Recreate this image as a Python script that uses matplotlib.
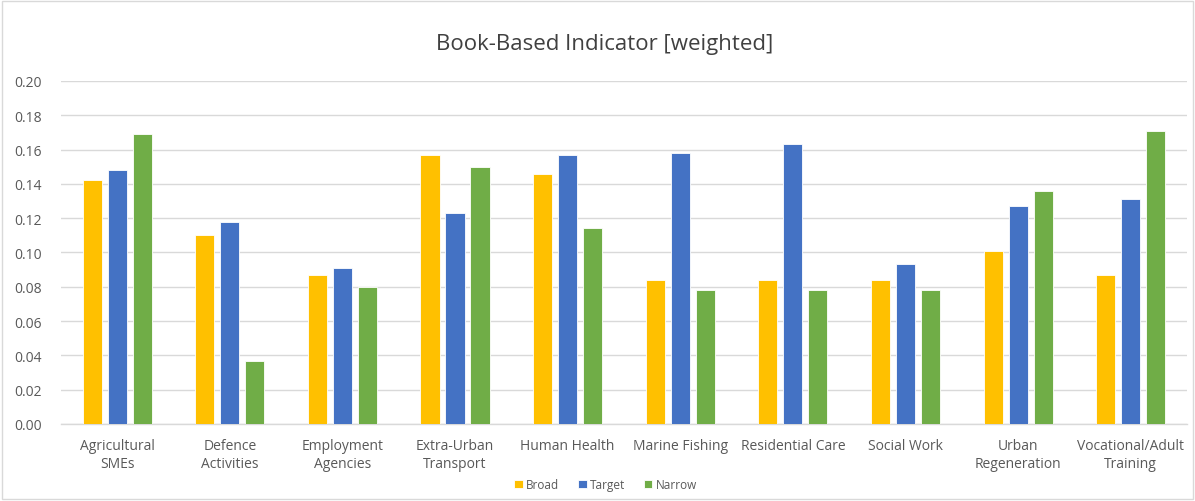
import matplotlib.pyplot as plt
import numpy as np
from matplotlib.patches import Rectangle

plt.rcParams['font.family'] = ['Open Sans', 'DejaVu Sans']

categories = ['Agricultural\nSMEs', 'Defence\nActivities', 'Employment\nAgencies',
              'Extra-Urban\nTransport', 'Human Health', 'Marine Fishing',
              'Residential Care', 'Social Work', 'Urban\nRegeneration',
              'Vocational/Adult\nTraining']
broad = [0.142, 0.110, 0.087, 0.157, 0.146, 0.084, 0.084, 0.084, 0.101, 0.087]
target = [0.148, 0.118, 0.091, 0.123, 0.157, 0.158, 0.163, 0.093, 0.127, 0.131]
narrow = [0.169, 0.037, 0.080, 0.150, 0.114, 0.078, 0.078, 0.078, 0.136, 0.171]
series_names = ['Broad', 'Target', 'Narrow']
colors = ['#FFC000', '#4472C4', '#70AD47']

fig = plt.figure(figsize=(11.95, 5.02), dpi=100)
ax = fig.add_axes([0.051, 0.1534, 0.9423, 0.6833])

x = np.arange(len(categories))
step = 0.222
width = 0.17
for i, (vals, name, col) in enumerate(zip([broad, target, narrow], series_names, colors)):
    ax.bar(x + (i - 1) * step, vals, width, color=col, label=name,
           edgecolor='white', linewidth=0.6, zorder=3)

ax.set_xlim(-0.5, len(categories) - 0.5)
ax.set_ylim(0, 0.20)
ax.set_yticks(np.arange(0, 0.201, 0.02))
ax.set_yticklabels(['%.2f' % v for v in np.arange(0, 0.201, 0.02)])
ax.set_xticks(x)
ax.set_xticklabels(categories, linespacing=1.25)
ax.tick_params(axis='both', length=0, labelsize=10, colors='#595959')
ax.tick_params(axis='x', pad=10)
ax.tick_params(axis='y', pad=14)
ax.grid(axis='y', color='#D9D9D9', linewidth=1.0, zorder=0)
for s in ['top', 'right', 'left']:
    ax.spines[s].set_visible(False)
ax.spines['bottom'].set_color('#D9D9D9')
ax.spines['bottom'].set_linewidth(1.0)

fig.text(0.506, 0.911, 'Book-Based Indicator [weighted]', ha='center', va='center',
         fontsize=16, color='#404040')

leg = fig.legend(loc='center', bbox_to_anchor=(0.507, 0.032), ncol=3, frameon=False,
                 fontsize=8.5, handlelength=0.7, handleheight=0.7, handletextpad=0.3,
                 columnspacing=1.6)
for t in leg.get_texts():
    t.set_color('#595959')

fig.patches.append(Rectangle((0.002, 0.004), 0.996, 0.992, transform=fig.transFigure,
                             fill=False, edgecolor='#D9D9D9', linewidth=1.0))

fig.savefig('out.png', dpi=100)
